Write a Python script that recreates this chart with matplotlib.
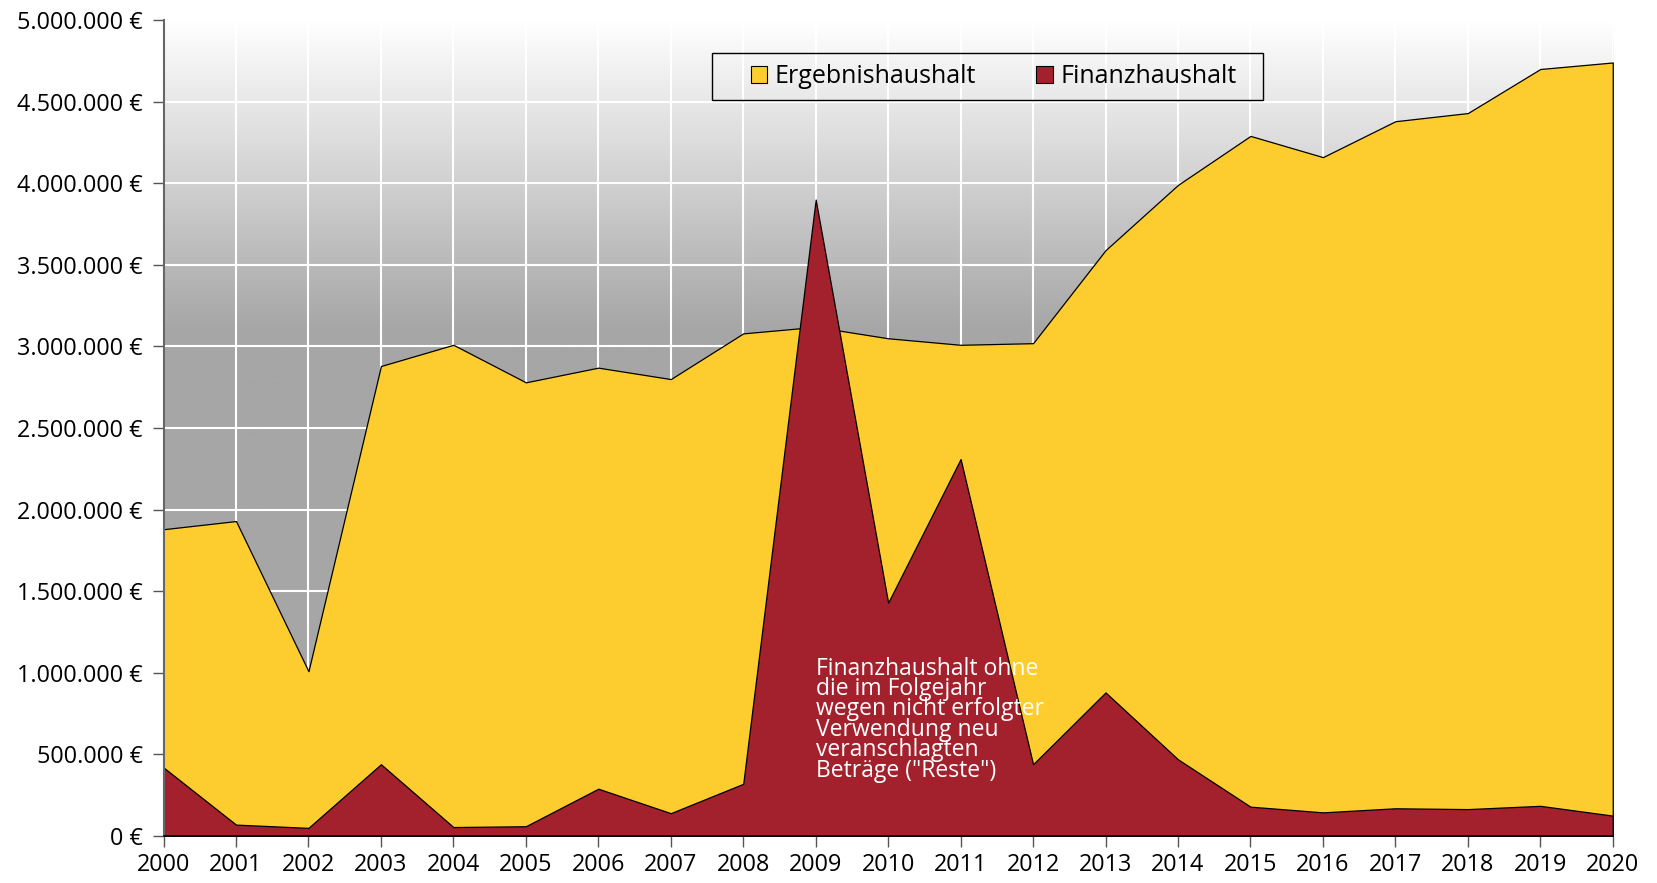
import matplotlib
matplotlib.use('Agg')
import matplotlib.pyplot as plt
from matplotlib.ticker import FuncFormatter, MultipleLocator
from matplotlib.colors import LinearSegmentedColormap
from matplotlib.patches import Rectangle
import numpy as np

plt.rcParams['font.family'] = ['Open Sans', 'DejaVu Sans']

years = list(range(2000, 2021))
ergebnis = [1.88, 1.93, 1.01, 2.88, 3.01, 2.78, 2.87, 2.80, 3.08, 3.12, 3.05,
            3.01, 3.02, 3.59, 3.99, 4.29, 4.16, 4.38, 4.43, 4.70, 4.74]
finanz = [0.42, 0.07, 0.05, 0.44, 0.055, 0.06, 0.29, 0.14, 0.32, 3.90, 1.43,
          2.31, 0.44, 0.88, 0.47, 0.18, 0.145, 0.17, 0.165, 0.185, 0.125]
ergebnis = [v * 1e6 for v in ergebnis]
finanz = [v * 1e6 for v in finanz]

note = 'Finanzhaushalt ohne\ndie im Folgejahr\nwegen nicht erfolgter\nVerwendung neu\nveranschlagten\nBeträge ("Reste")'

fig = plt.figure(figsize=(16.57, 8.83), dpi=100)
ax = fig.add_axes([0.0987, 0.0532, 0.9733 - 0.0987, 0.9773 - 0.0532])

ax.set_xlim(2000, 2020)
ax.set_ylim(0, 5e6)

# background gradient (white at top -> grey)
ys = np.linspace(5e6, 0, 400)
shade = np.clip((ys - 3.1e6) / 1.9e6, 0, 1)
cmap = LinearSegmentedColormap.from_list('bg', ['#a6a6a6', '#ffffff'])
ax.imshow(shade.reshape(-1, 1), cmap=cmap, aspect='auto',
          extent=[2000, 2020, 0, 5e6], zorder=0, vmin=0, vmax=1)

ax.yaxis.set_major_locator(MultipleLocator(500000))
ax.grid(True, color='white', linewidth=1.5, zorder=1)
ax.set_axisbelow(True)

ax.fill_between(years, ergebnis, color='#FDCD30', edgecolor='black',
                linewidth=0.9, zorder=2, label='Ergebnishaushalt')
ax.fill_between(years, finanz, color='#A2212D', edgecolor='black',
                linewidth=0.9, zorder=3, label='Finanzhaushalt')

ax.text(2009, 1.1e6, note, color='white', fontsize=16.5, va='top', ha='left',
        linespacing=0.8, zorder=4)

ax.yaxis.set_major_formatter(FuncFormatter(lambda v, p: f"{int(v):,}".replace(',', '.') + ' €'))
ax.set_xticks(years)
ax.set_xticklabels([str(y) for y in years])

ax.tick_params(axis='both', labelsize=16.8, direction='out', length=8,
               color='#555555', width=1)
ax.tick_params(axis='y', pad=7)
ax.tick_params(axis='x', pad=4)

for s in ['top', 'right']:
    ax.spines[s].set_visible(False)
ax.spines['left'].set_color('#666666')
ax.spines['left'].set_linewidth(1.5)
ax.spines['bottom'].set_color('black')
ax.spines['bottom'].set_linewidth(1.2)
ax.spines['left'].set_zorder(5)
ax.spines['bottom'].set_zorder(5)

# legend box drawn separately
ax.add_patch(Rectangle((0.3787, 0.9015), 0.7586 - 0.3787, 0.9598 - 0.9015,
                       transform=ax.transAxes, facecolor='none',
                       edgecolor='black', linewidth=1.0, zorder=6))
leg = ax.legend(loc='center left', bbox_to_anchor=(0.4055, 0.9307), ncol=2,
                fontsize=18, frameon=False, handlelength=0.65,
                handleheight=0.65, columnspacing=2.4, handletextpad=0.3,
                borderpad=0, borderaxespad=0)
for h in leg.legend_handles:
    h.set_linewidth(0.8)
    h.set_edgecolor('black')

fig.savefig('out.png', dpi=100)
